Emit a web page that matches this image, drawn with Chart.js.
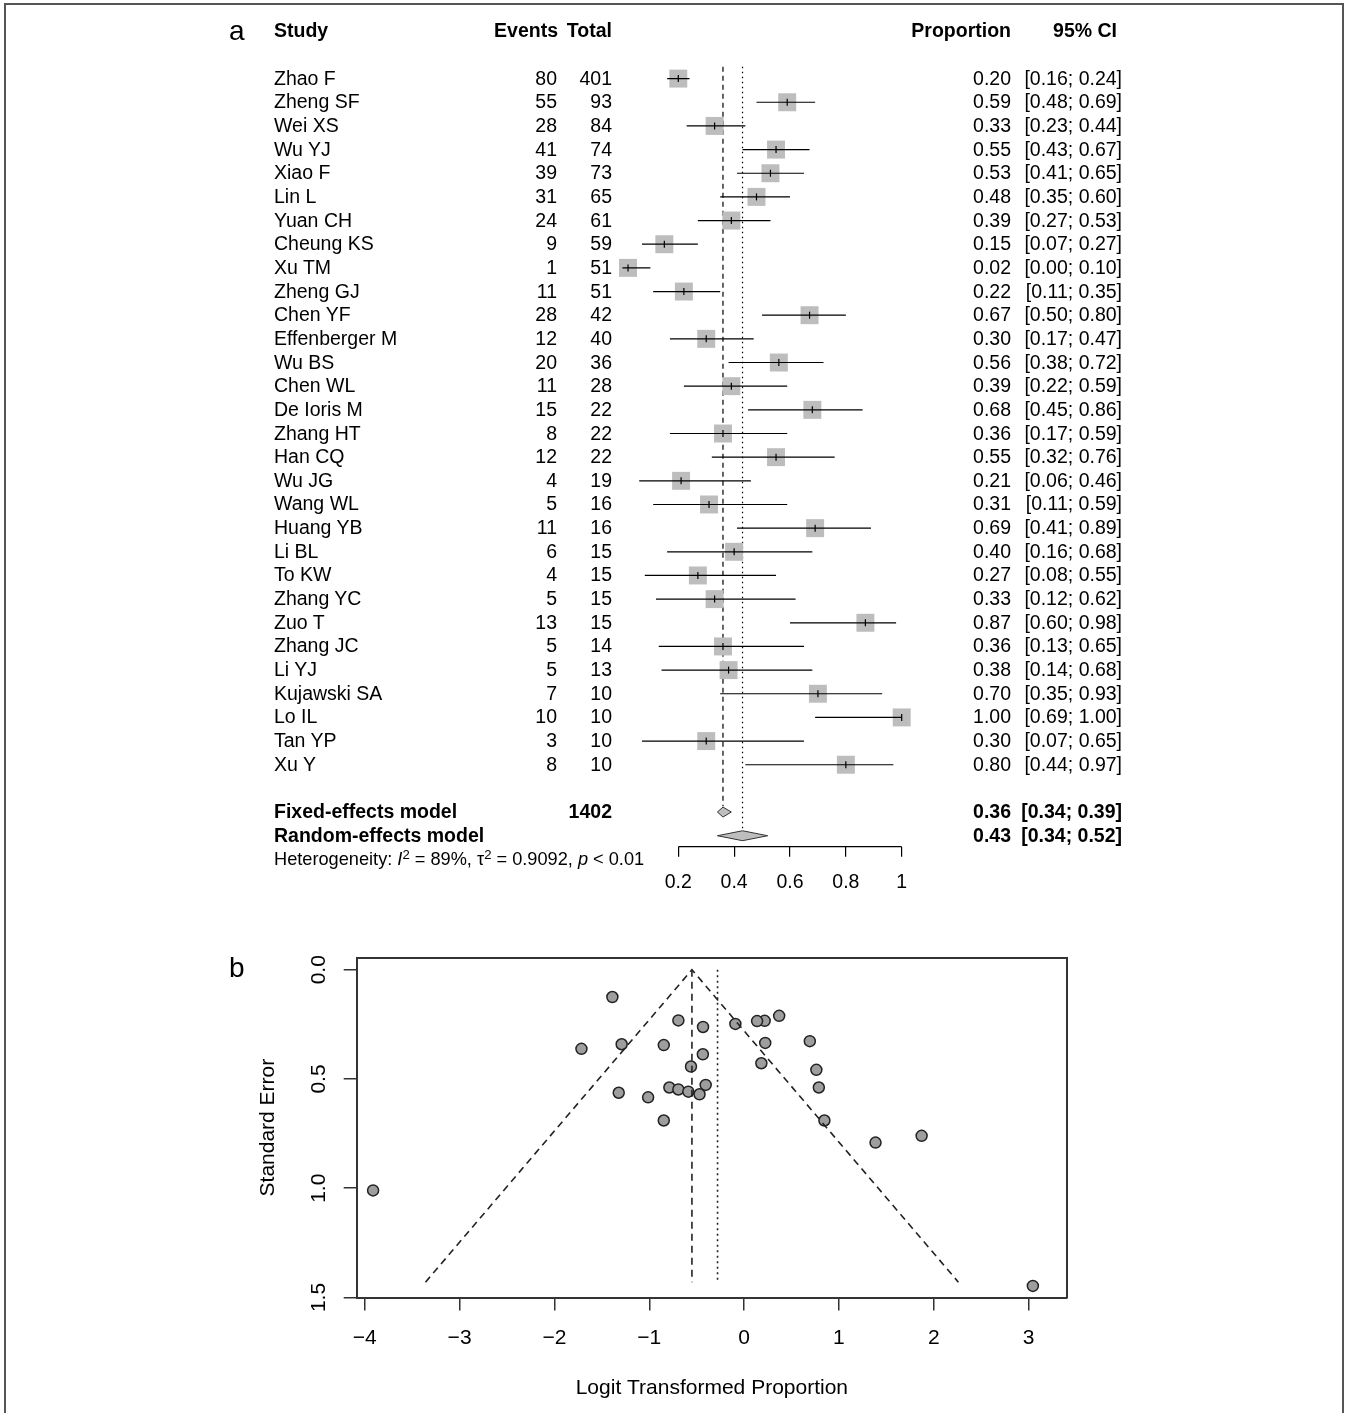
<!DOCTYPE html>
<html>
<head>
<meta charset="utf-8">
<script src="https://cdn.jsdelivr.net/npm/chart.js@4.4.1/dist/chart.umd.min.js"></script>
<style>
html,body{margin:0;padding:0;background:#fff;}
body{width:1349px;height:1413px;position:relative;overflow:hidden;font-family:"Liberation Sans",Arial,Helvetica,sans-serif;color:#000;}
#frame{position:absolute;left:4px;top:3px;width:1340px;height:1440px;border:2px solid #555;box-sizing:border-box;}
.wrap{position:absolute;left:0;}
.t{position:absolute;white-space:nowrap;line-height:1;font-size:19.5px;}
.b{font-weight:bold;}
.small{font-size:18.2px;}
.panel{font-size:28px;}
sup{font-size:0.72em;line-height:0;position:relative;top:-0.5em;vertical-align:baseline;}
</style>
</head>
<body>
<div id="frame"></div>
<div class="wrap" style="top:0;width:1349px;height:920px;"><canvas id="forest" width="1349" height="920"></canvas></div>
<div class="wrap" style="top:920px;width:1349px;height:493px;"><canvas id="funnel" width="1349" height="493"></canvas></div>
<div id="overlay"></div>
<script>
// ---------- DATA ----------
const studies = ['Zhao F','Zheng SF','Wei XS','Wu YJ','Xiao F','Lin L','Yuan CH','Cheung KS','Xu TM','Zheng GJ','Chen YF','Effenberger M','Wu BS','Chen WL','De Ioris M','Zhang HT','Han CQ','Wu JG','Wang WL','Huang YB','Li BL','To KW','Zhang YC','Zuo T','Zhang JC','Li YJ','Kujawski SA','Lo IL','Tan YP','Xu Y'];
const events = [80,55,28,41,39,31,24,9,1,11,28,12,20,11,15,8,12,4,5,11,6,4,5,13,5,5,7,10,3,8];
const totals = [401,93,84,74,73,65,61,59,51,51,42,40,36,28,22,22,22,19,16,16,15,15,15,15,14,13,10,10,10,10];
const proportion = [0.20,0.59,0.33,0.55,0.53,0.48,0.39,0.15,0.02,0.22,0.67,0.30,0.56,0.39,0.68,0.36,0.55,0.21,0.31,0.69,0.40,0.27,0.33,0.87,0.36,0.38,0.70,1.00,0.30,0.80];
const ciLower = [0.16,0.48,0.23,0.43,0.41,0.35,0.27,0.07,0.00,0.11,0.50,0.17,0.38,0.22,0.45,0.17,0.32,0.06,0.11,0.41,0.16,0.08,0.12,0.60,0.13,0.14,0.35,0.69,0.07,0.44];
const ciUpper = [0.24,0.69,0.44,0.67,0.65,0.60,0.53,0.27,0.10,0.35,0.80,0.47,0.72,0.59,0.86,0.59,0.76,0.46,0.59,0.89,0.68,0.55,0.62,0.98,0.65,0.68,0.93,1.00,0.65,0.97];

const modelNames = ['Fixed-effects model','Random-effects model'];
const modelTotal = ['1402',''];
const modelEst = [0.36,0.43];
const modelLower = [0.34,0.34];
const modelUpper = [0.39,0.52];
const heterogeneityText = 'Heterogeneity: <i>I</i><sup>2</sup> = 89%, τ<sup>2</sup> = 0.9092, <i>p</i> &lt; 0.01';

const forestTicks = [0.2,0.4,0.6,0.8,1];
const forestTickLabels = ['0.2','0.4','0.6','0.8','1'];

const funnelLogit = [-1.389,0.370,-0.693,0.217,0.137,-0.092,-0.433,-1.715,-3.912,-1.291,0.693,-0.847,0.223,-0.435,0.762,-0.560,0.182,-1.322,-0.788,0.788,-0.405,-1.012,-0.693,1.872,-0.588,-0.470,0.847,3.045,-0.847,1.386];
const funnelSE = [0.125,0.211,0.232,0.234,0.235,0.248,0.262,0.362,1.010,0.341,0.327,0.345,0.335,0.387,0.458,0.443,0.428,0.563,0.539,0.539,0.527,0.584,0.548,0.760,0.558,0.570,0.690,1.447,0.690,0.791];
const funnelX = [-3.36,-0.55,2.26];
const funnelY = [1.43,0,1.43];
const pooledLogit = [-0.55,-0.28];
const funnelXTicks = [-4,-3,-2,-1,0,1,2,3];
const funnelXTickLabels = ['\u22124','\u22123','\u22122','\u22121','0','1','2','3'];
const funnelYTicks = [0,0.5,1,1.5];
const funnelYTickLabels = ['0.0','0.5','1.0','1.5'];

// ---------- LAYOUT ----------
Chart.defaults.font.family = '"Liberation Sans", Arial, Helvetica, sans-serif';
Chart.defaults.color = '#000';
Chart.defaults.animation = false;

const F_X0 = 678.3, F_X1 = 901.7;            // pixels of the first and last axis tick
const F_XMIN = -0.05, F_XMAX = 1;
const F_PPU = (F_X1 - F_X0) / (forestTicks[forestTicks.length-1] - forestTicks[0]);
const F_AREA = {left: F_X0 - (forestTicks[0] - F_XMIN) * F_PPU, right: F_X1, top: 50, bottom: 846.7};
const F_CANVAS_H = 920, F_AXIS_H = 60;
const ROW1_PX = 78.6, ROW_H = 23.66;
const fYMin = 1 - (ROW1_PX - F_AREA.top) / ROW_H;
const fYMax = 1 + (F_AREA.bottom - ROW1_PX) / ROW_H;

const studyRows = studies.map((s, i) => i + 1);
const modelRows = [studies.length + 2, studies.length + 3];
const hetRow = studies.length + 4;
const headerRow = -1;
const DIAM_H = 0.21;

const ciData = [];
studies.forEach((s, i) => {
  ciData.push({x: ciLower[i], y: studyRows[i]});
  ciData.push({x: ciUpper[i], y: studyRows[i]});
  ciData.push({x: ciUpper[i], y: null});
});
const estData = studies.map((s, i) => ({x: proportion[i], y: studyRows[i]}));
const diamond = k => [
  {x: modelLower[k], y: modelRows[k]},
  {x: modelEst[k], y: modelRows[k] - DIAM_H},
  {x: modelUpper[k], y: modelRows[k]},
  {x: modelEst[k], y: modelRows[k] + DIAM_H},
  {x: modelLower[k], y: modelRows[k]}
];

const forest = new Chart(document.getElementById('forest'), {
  type: 'scatter',
  data: {datasets: [
    {type:'line', data:[{x:forestTicks[0], y:fYMax},{x:forestTicks[forestTicks.length-1], y:fYMax}], borderColor:'#000', borderWidth:1.2, pointRadius:0, fill:false, clip:false, order:1},
    {type:'line', data:[{x:modelEst[0], y:0.5},{x:modelEst[0], y:modelRows[0]-0.25}], borderColor:'#000', borderWidth:1.2, borderDash:[5,4], pointRadius:0, fill:false, clip:false, order:9},
    {type:'line', data:[{x:modelEst[1], y:0.5},{x:modelEst[1], y:modelRows[1]-0.25}], borderColor:'#000', borderWidth:1.2, borderDash:[1.5,3.5], pointRadius:0, fill:false, clip:false, order:9},
    {type:'scatter', data: estData, pointStyle:'rect', pointRadius:12.7, pointHoverRadius:12.7, pointBackgroundColor:'#bdbdbd', pointBorderWidth:0, clip:false, order:8},
    {type:'line', data: ciData, borderColor:'#000', borderWidth:1.2, pointRadius:0, spanGaps:false, fill:false, clip:false, order:7},
    {type:'scatter', data: estData, pointStyle:'line', pointRotation:90, pointRadius:3.5, pointHoverRadius:3.5, pointBorderColor:'#000', pointBorderWidth:1.2, clip:false, order:6},
    {type:'line', data: diamond(0), borderColor:'#333', borderWidth:1, backgroundColor:'#bebebe', fill:'shape', pointRadius:0, tension:0, clip:false, order:5},
    {type:'line', data: diamond(1), borderColor:'#333', borderWidth:1, backgroundColor:'#bebebe', fill:'shape', pointRadius:0, tension:0, clip:false, order:5}
  ]},
  options: {
    responsive:false, animation:false, events:[],
    layout:{autoPadding:false, padding:{left:F_AREA.left, right:1349-F_AREA.right, top:F_AREA.top, bottom:F_CANVAS_H-F_AREA.bottom-F_AXIS_H}},
    plugins:{legend:{display:false}, tooltip:{enabled:false}},
    scales:{
      x:{type:'linear', position:'bottom', min:F_XMIN, max:F_XMAX,
        afterBuildTicks: s => { s.ticks = forestTicks.map(v => ({value:v})); },
        afterFit: s => { s.height = F_AXIS_H; },
        ticks:{callback:(v,i) => forestTickLabels[i], font:{size:19.5}, color:'#000', padding:14.6, maxRotation:0, autoSkip:false},
        grid:{drawOnChartArea:false, drawTicks:true, tickLength:10, color:'#000', lineWidth:1.2},
        border:{display:false}
      },
      y:{type:'linear', display:false, reverse:true, min:fYMin, max:fYMax}
    }
  }
});

const P_AREA = {left:356.7, right:1067, top:957.7-920, bottom:1297.5-920};
const P_CANVAS_H = 493, P_XAXIS_H = 103, P_YAXIS_W = 110;

const funnel = new Chart(document.getElementById('funnel'), {
  type: 'scatter',
  data: {datasets: [
    {type:'scatter', data: funnelLogit.map((x,i) => ({x, y: funnelSE[i]})), pointRadius:5.5, pointHoverRadius:5.5, pointBackgroundColor:'#9e9e9e', pointBorderColor:'#222', pointBorderWidth:1.5, order:2},
    {type:'line', data: funnelX.map((x,i) => ({x, y: funnelY[i]})), borderColor:'#222', borderWidth:1.6, borderDash:[7,5], pointRadius:0, fill:false, tension:0, order:1},
    {type:'line', data:[{x:pooledLogit[0], y:0},{x:pooledLogit[0], y:funnelY[0]}], borderColor:'#222', borderWidth:1.6, borderDash:[7,5], pointRadius:0, fill:false, order:1},
    {type:'line', data:[{x:pooledLogit[1], y:0},{x:pooledLogit[1], y:funnelY[0]}], borderColor:'#222', borderWidth:1.6, borderDash:[2,3.5], pointRadius:0, fill:false, order:1}
  ]},
  options: {
    responsive:false, animation:false, events:[],
    layout:{autoPadding:false, padding:{left:P_AREA.left-P_YAXIS_W, right:1349-P_AREA.right, top:P_AREA.top, bottom:P_CANVAS_H-P_AREA.bottom-P_XAXIS_H}},
    plugins:{legend:{display:false}, tooltip:{enabled:false}},
    scales:{
      x:{type:'linear', position:'bottom', min:-4.085, max:3.405,
        afterBuildTicks: s => { s.ticks = funnelXTicks.map(v => ({value:v})); },
        afterFit: s => { s.height = P_XAXIS_H; },
        ticks:{callback:(v,i) => funnelXTickLabels[i], font:{size:21}, color:'#000', padding:15, maxRotation:0, autoSkip:false},
        grid:{drawOnChartArea:false, drawTicks:true, tickLength:13, color:'#333', lineWidth:1.5},
        border:{display:true, color:'#333', width:2},
        title:{display:true, text:'Logit Transformed Proportion', font:{size:21}, color:'#000', padding:{top:0, bottom:0}}
      },
      x2:{type:'linear', position:'top', min:-4.085, max:3.405,
        afterFit: s => { s.height = 0; },
        ticks:{display:false}, grid:{display:false},
        border:{display:true, color:'#333', width:2}
      },
      y:{type:'linear', position:'left', reverse:true, min:-0.055, max:1.5,
        afterBuildTicks: s => { s.ticks = funnelYTicks.map(v => ({value:v})); },
        afterFit: s => { s.width = P_YAXIS_W; },
        ticks:{callback:(v,i) => funnelYTickLabels[i], font:{size:21}, color:'#000', padding:10, minRotation:90, maxRotation:90, crossAlign:'center', autoSkip:false},
        grid:{drawOnChartArea:false, drawTicks:true, tickLength:13, color:'#333', lineWidth:1.5},
        border:{display:true, color:'#333', width:2},
        title:{display:true, text:'Standard Error', font:{size:21}, color:'#000', padding:{top:8.7, bottom:0}}
      },
      y2:{type:'linear', position:'right', min:-0.055, max:1.5,
        afterFit: s => { s.width = 0; },
        ticks:{display:false}, grid:{display:false},
        border:{display:true, color:'#333', width:2}
      }
    }
  }
});

// ---------- TEXT ----------
const overlay = document.getElementById('overlay');
const fy = r => forest.scales.y.getPixelForValue(r);
function put(content, x, y, align, cls, isHtml) {
  const d = document.createElement('div');
  d.className = 't ' + (cls || '');
  if (isHtml) d.innerHTML = content; else d.textContent = content;
  d.style.left = x + 'px';
  d.style.top = y + 'px';
  d.style.transform = align === 'right' ? 'translate(-100%,-50%)' : 'translate(0,-50%)';
  overlay.appendChild(d);
}
const COL = {study:274, events:558, total:612, prop:1011, ci:1122, ciHead:1117};
const fmt = v => v.toFixed(2);

put('a', 229, fy(headerRow), 'left', 'panel');
put('Study', COL.study, fy(headerRow), 'left', 'b');
put('Events', COL.events, fy(headerRow), 'right', 'b');
put('Total', COL.total, fy(headerRow), 'right', 'b');
put('Proportion', COL.prop, fy(headerRow), 'right', 'b');
put('95% CI', COL.ciHead, fy(headerRow), 'right', 'b');

studies.forEach((s, i) => {
  const y = fy(studyRows[i]);
  put(s, COL.study, y, 'left');
  put(String(events[i]), COL.events - 1, y, 'right');
  put(String(totals[i]), COL.total, y, 'right');
  put(fmt(proportion[i]), COL.prop, y, 'right');
  put('[' + fmt(ciLower[i]) + '; ' + fmt(ciUpper[i]) + ']', COL.ci, y, 'right');
});
modelNames.forEach((m, k) => {
  const y = fy(modelRows[k]);
  put(m, COL.study, y, 'left', 'b');
  if (modelTotal[k]) put(modelTotal[k], COL.total, y, 'right', 'b');
  put(fmt(modelEst[k]), COL.prop, y, 'right', 'b');
  put('[' + fmt(modelLower[k]) + '; ' + fmt(modelUpper[k]) + ']', COL.ci, y, 'right', 'b');
});
put(heterogeneityText, COL.study, fy(hetRow), 'left', 'small', true);
put('b', 229, 968, 'left', 'panel');
</script>
</body>
</html>
